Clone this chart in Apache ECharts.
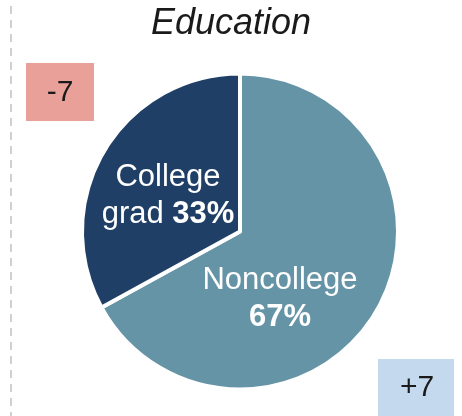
<!DOCTYPE html>
<html>
<head>
<meta charset="utf-8">
<script src="https://cdn.jsdelivr.net/npm/echarts@6/dist/echarts.min.js"></script>
<style>
  html, body { margin: 0; padding: 0; background: #fff; }
  #chart { width: 462px; height: 416px; }
</style>
</head>
<body>
<div id="chart"></div>
<script>
// share of respondents, by education
var categories = ['Noncollege', 'College grad'];
var shares = [67, 33];
var sliceColors = ['#6594a6', '#1f3f66'];
// change since last time, shown in the corner boxes
var changeLabels = ['+7', '-7'];

var myChart = echarts.init(document.getElementById('chart'));

var font = '"Liberation Sans", Arial, sans-serif';

var option = {
  animation: false,
  title: {
    text: 'Education',
    left: 'center',
    top: 6,
    padding: 0,
    textStyle: {
      fontFamily: font,
      fontStyle: 'italic',
      fontWeight: 'normal',
      fontSize: 36,
      color: '#1a1a1a'
    }
  },
  graphic: [
    // dashed divider on the left
    {
      type: 'line',
      shape: { x1: 11, y1: 6, x2: 11, y2: 416 },
      style: { stroke: '#d0d0d0', lineWidth: 2, lineDash: [8, 6] }
    },
    {
      type: 'group',
      left: 26,
      top: 63,
      children: [
        { type: 'rect', shape: { x: 0, y: 0, width: 68, height: 58 }, style: { fill: '#e8a098' } },
        {
          type: 'text', x: 34, y: 30,
          style: { text: changeLabels[1], fontFamily: font, fontSize: 30, fill: '#1a1a1a', align: 'center', verticalAlign: 'middle' }
        }
      ]
    },
    {
      type: 'group',
      left: 378,
      top: 359,
      children: [
        { type: 'rect', shape: { x: 0, y: 0, width: 76, height: 60 }, style: { fill: '#c5d9ee' } },
        {
          type: 'text', x: 39, y: 29,
          style: { text: changeLabels[0], fontFamily: font, fontSize: 30, fill: '#1a1a1a', align: 'center', verticalAlign: 'middle' }
        }
      ]
    }
  ],
  series: [
    {
      type: 'pie',
      center: [240, 231.5],
      radius: 158,
      startAngle: 90,
      clockwise: true,
      itemStyle: {
        borderColor: '#fff',
        borderWidth: 4
      },
      label: {
        show: true,
        position: 'inside',
        color: '#fff',
        fontFamily: font,
        fontSize: 31,
        lineHeight: 37,
        formatter: function (p) {
          var words = p.name.split(' ');
          if (words.length > 1) {
            return '{n|' + words[0] + '}\n{n|' + words.slice(1).join(' ') + ' }{b|' + p.value + '%}';
          }
          return '{n|' + p.name + '}\n{b|' + p.value + '%}';
        },
        rich: {
          n: { color: '#fff', fontFamily: font, fontSize: 31, lineHeight: 37 },
          b: { color: '#fff', fontFamily: font, fontSize: 31, lineHeight: 37, fontWeight: 'bold' }
        }
      },
      labelLine: { show: false },
      labelLayout: function (params) {
        if (params.dataIndex === 0) {
          return { x: 280, y: 299, align: 'center', verticalAlign: 'middle' };
        }
        return { x: 168, y: 196, align: 'center', verticalAlign: 'middle' };
      },
      emphasis: { disabled: true },
      data: categories.map(function (name, i) {
        return { name: name, value: shares[i], itemStyle: { color: sliceColors[i] } };
      })
    }
  ]
};

myChart.setOption(option);
</script>
</body>
</html>
